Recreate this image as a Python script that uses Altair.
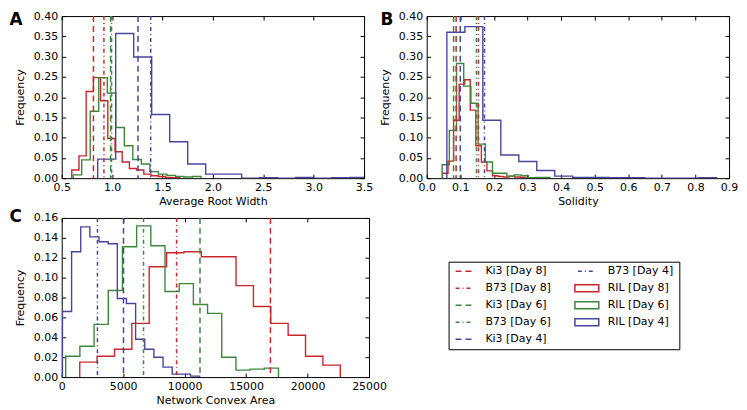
import altair as alt
import numpy as np
import pandas as pd

FONT = "DejaVu Sans"
RED, GREEN, BLUE = "#c8282c", "#3c873c", "#46469e"
DAYS = ["Day 8", "Day 6", "Day 4"]
DAY_COLORS = [RED, GREEN, BLUE]
KINDS = ["Ki3", "B73"]
KIND_DASH = [[6, 4], [4, 3, 1, 3]]

# ---------------- Panel A : Average Root Width ----------------
A_XTICKS = [0.5, 1.0, 1.5, 2.0, 2.5, 3.0, 3.5]
A_YTICKS = [0.00, 0.05, 0.10, 0.15, 0.20, 0.25, 0.30, 0.35, 0.40]
A_BINS = {"Day 8": (0.600, 1.672), "Day 6": (0.614, 1.882), "Day 4": (0.857, 3.536)}
A_RIL_D8 = [0.020, 0.055, 0.214, 0.248, 0.191, 0.098, 0.065, 0.040, 0.024, 0.020, 0.010, 0.006, 0.004, 0.002, 0.001]
A_RIL_D6 = [0.008, 0.045, 0.165, 0.248, 0.210, 0.125, 0.080, 0.046, 0.035, 0.016, 0.010, 0.007, 0.004, 0.003, 0.004]
A_RIL_D4 = [0.047, 0.357, 0.299, 0.157, 0.090, 0.035, 0.010, 0.010, 0.000, 0.001, 0.000, 0.002, 0.000, 0.001, 0.002]
A_KI3 = {"Day 8": 0.815, "Day 6": 0.985, "Day 4": 1.257}
A_B73 = {"Day 8": 0.919, "Day 6": 0.995, "Day 4": 1.383}

# ---------------- Panel B : Solidity ----------------
B_XTICKS = [0.0, 0.1, 0.2, 0.3, 0.4, 0.5, 0.6, 0.7, 0.8, 0.9]
B_YTICKS = A_YTICKS
B_BINS = {"Day 8": (0.047, 0.295), "Day 6": (0.046, 0.367), "Day 4": (0.060, 0.863)}
B_RIL_D8 = [0.012, 0.042, 0.143, 0.232, 0.243, 0.168, 0.080, 0.040, 0.018, 0.006, 0.004, 0.003, 0.005, 0.003, 0.002]
B_RIL_D6 = [0.033, 0.118, 0.283, 0.227, 0.185, 0.084, 0.040, 0.012, 0.012, 0.005, 0.008, 0.006, 0.001, 0.002, 0.002]
B_RIL_D4 = [0.360, 0.374, 0.143, 0.057, 0.041, 0.019, 0.005, 0.002, 0.002, 0.001, 0.001, 0.000, 0.000, 0.000, 0.001]
B_KI3 = {"Day 8": 0.0875, "Day 6": 0.080, "Day 4": 0.100}
B_B73 = {"Day 8": 0.154, "Day 6": 0.148, "Day 4": 0.172}

# ---------------- Panel C : Network Convex Area ----------------
C_XTICKS = [0, 5000, 10000, 15000, 20000, 25000]
C_YTICKS = [0.00, 0.02, 0.04, 0.06, 0.08, 0.10, 0.12, 0.14, 0.16]
C_BINS = {"Day 8": (1467, 22660), "Day 6": (326, 17634), "Day 4": (60, 11221)}
C_RIL_D8 = [0.015, 0.021, 0.028, 0.054, 0.111, 0.125, 0.126, 0.121, 0.121, 0.092, 0.071, 0.054, 0.042, 0.021, 0.012]
C_RIL_D6 = [0.021, 0.031, 0.053, 0.087, 0.131, 0.152, 0.132, 0.086, 0.094, 0.073, 0.064, 0.020, 0.007, 0.008, 0.009]
C_RIL_D4 = [0.066, 0.126, 0.151, 0.141, 0.136, 0.134, 0.079, 0.074, 0.038, 0.028, 0.020, 0.010, 0.003, 0.003, 0.001]
C_KI3 = {"Day 8": 16980, "Day 6": 11250, "Day 4": 5026}
C_B73 = {"Day 8": 9346, "Day 6": 6657, "Day 4": 2907}

# ---------------- Legend ----------------
LEG_LABELS = ["Ki3 [Day 8]", "B73 [Day 8]", "Ki3 [Day 6]", "B73 [Day 6]", "Ki3 [Day 4]",
              "B73 [Day 4]", "RIL [Day 8]", "RIL [Day 6]", "RIL [Day 4]"]


def hist_df(bins, freqs):
    rows = []
    for day, vals in zip(DAYS, freqs):
        lo, hi = bins[day]
        edges = np.linspace(lo, hi, len(vals) + 1)
        pts = [(edges[0], 0.0)] + list(zip(edges[:-1], vals)) + [(edges[-1], 0.0)]
        for i, (x, y) in enumerate(pts):
            rows.append({"day": day, "i": i, "x": float(x), "y": float(y)})
    return pd.DataFrame(rows)


def vline_df(ki3, b73):
    rows = []
    for day in DAYS:
        rows.append({"day": day, "kind": "Ki3", "x": ki3[day]})
        rows.append({"day": day, "kind": "B73", "x": b73[day]})
    return pd.DataFrame(rows)


color = alt.Color("day:N", scale=alt.Scale(domain=DAYS, range=DAY_COLORS), legend=None)


def panel(letter, ldx, ldy, hdf, vdf, xdom, xticks, xfmt, xtitle, ydom, yticks, width, height,
          lpad=3, tpad=4):
    xs = alt.Scale(domain=xdom, nice=False, zero=False)
    ys = alt.Scale(domain=ydom, nice=False, zero=False)
    tk = dict(tickSize=4, tickColor="black", tickWidth=1, offset=-4, domain=False, grid=False,
              labelOverlap=False, labelFlush=False)
    hist = alt.Chart(hdf).mark_line(interpolate="step-after", strokeWidth=1.4, clip=True).encode(
        x=alt.X("x:Q", scale=xs, axis=alt.Axis(values=xticks, format=xfmt, title=xtitle,
                                               labelPadding=lpad, titlePadding=tpad, **tk)),
        y=alt.Y("y:Q", scale=ys, axis=alt.Axis(values=yticks, format=".2f", title="Frequency",
                                               labelPadding=4, titlePadding=8, **tk)),
        color=color, detail="day:N", order="i:Q")
    vl = alt.Chart(vdf).mark_rule(strokeWidth=1.5).encode(
        x=alt.X("x:Q", scale=xs, axis=None),
        color=color,
        strokeDash=alt.StrokeDash("kind:N", scale=alt.Scale(domain=KINDS, range=KIND_DASH), legend=None))
    ghost = alt.Chart(hdf).mark_line(opacity=0).encode(
        x=alt.X("x:Q", scale=xs, axis=alt.Axis(
            orient="top", values=xticks, labels=False, title=letter,
            titleX=ldx, titleY=ldy, titleAlign="left", titleBaseline="alphabetic", titleAngle=0,
            titleFontSize=17, titleFontWeight="bold", titleColor="black", **tk)),
        y=alt.Y("y:Q", scale=ys, axis=alt.Axis(orient="right", values=yticks, labels=False, title=None, **tk)),
        detail="day:N", order="i:Q")
    return alt.layer(hist, vl, ghost).resolve_axis(x="independent", y="independent").properties(
        width=width, height=height)


A = panel("A", -53, 5, hist_df(A_BINS, [A_RIL_D8, A_RIL_D6, A_RIL_D4]), vline_df(A_KI3, A_B73),
          [0.5, 3.5], A_XTICKS, ".1f", "Average Root Width", [0, 0.4], A_YTICKS, 304, 163, 3, 3)
B = panel("B", -47, 5, hist_df(B_BINS, [B_RIL_D8, B_RIL_D6, B_RIL_D4]), vline_df(B_KI3, B_B73),
          [0.0, 0.9], B_XTICKS, ".1f", "Solidity", [0, 0.4], B_YTICKS, 304, 163, 3, 3)
C = panel("C", -53, 0, hist_df(C_BINS, [C_RIL_D8, C_RIL_D6, C_RIL_D4]), vline_df(C_KI3, C_B73),
          [0, 25000], C_XTICKS, "d", "Network Convex Area", [0, 0.16], C_YTICKS, 309, 160)

ldf = pd.DataFrame({
    "label": LEG_LABELS,
    "col": [i // 5 for i in range(len(LEG_LABELS))],
    "row": [i % 5 for i in range(len(LEG_LABELS))],
    "kind": [s.split(" ")[0] for s in LEG_LABELS],
    "day": [s[s.index("[") + 1:-1] for s in LEG_LABELS],
})
lx = alt.X("col:Q", scale=alt.Scale(domain=[0, 1], range=[16, 139]), axis=None)
ly = alt.Y("row:Q", scale=alt.Scale(domain=[0, 4], range=[9.5, 78]), axis=None)
base = alt.Chart(ldf)
ltxt = base.mark_text(align="left", baseline="middle", dx=21, font=FONT, fontSize=11, color="black").encode(
    x=lx, y=ly, text="label:N")
lki3 = base.transform_filter(alt.datum.kind == "Ki3").mark_point(
    shape="M-1,0L1,0", size=324, filled=False, strokeWidth=1.5, strokeDash=KIND_DASH[0], opacity=1).encode(
    x=lx, y=ly, color=color)
lb73 = base.transform_filter(alt.datum.kind == "B73").mark_point(
    shape="M-1,0L1,0", size=324, filled=False, strokeWidth=1.5, strokeDash=KIND_DASH[1], opacity=1).encode(
    x=lx, y=ly, color=color)
lril = base.transform_filter(alt.datum.kind == "RIL").mark_point(
    shape="M-1,-0.29L1,-0.29L1,0.29L-1,0.29Z", size=576, filled=False, strokeWidth=1.5, opacity=1).encode(
    x=lx, y=ly, color=color)
legend = alt.layer(ltxt, lki3, lb73, lril).properties(width=232, height=88)

# invisible spacer that pushes the legend box down inside its cell
spacer = alt.Chart(pd.DataFrame({"v": [0]})).mark_point(opacity=0, size=0).encode(
    x=alt.X("v:Q", axis=None), y=alt.Y("v:Q", axis=None)).properties(
    width=232, height=1, view=alt.ViewBackground(stroke="transparent"))
legend_cell = alt.vconcat(spacer, legend, spacing=41)

top = alt.hconcat(A, B, spacing=5)
bottom = alt.hconcat(C, legend_cell, spacing=61)
chart = alt.vconcat(top, bottom, spacing=0).configure_view(
    stroke="black", strokeWidth=1).configure_axis(
    labelFont=FONT, titleFont=FONT, labelFontSize=11, titleFontSize=11, titleFontWeight="normal",
    labelColor="black", titleColor="black").properties(padding=0)

chart.save("out.html", embed_options={"renderer": "svg", "actions": False})
